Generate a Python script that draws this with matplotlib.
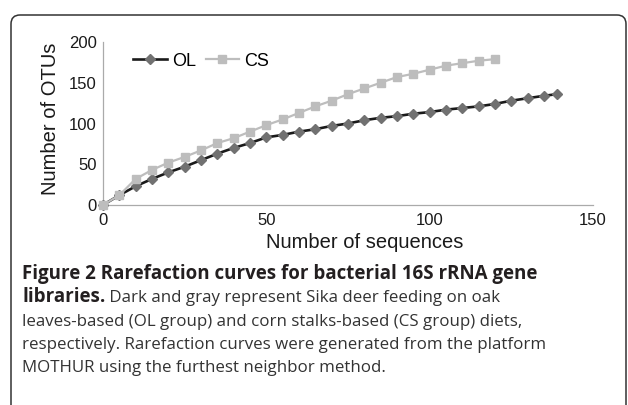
import numpy as np
import matplotlib
matplotlib.use('Agg')
import matplotlib.pyplot as plt
import matplotlib.patches as mpatches
import matplotlib.transforms as mtransforms

# rarefaction data
ol_x = list(range(0, 140, 5)) + [139]
ol_y = [0, 12, 23, 32, 40, 47, 55, 63, 70, 76, 83, 86, 90, 93, 97, 100,
        104, 107, 109, 112, 114, 117, 119, 121, 124, 128, 131, 134, 136]
cs_x = list(range(0, 125, 5))
cs_y = [0, 12, 32, 43, 52, 59, 67, 76, 82, 90, 98, 105, 113, 121, 128,
        136, 143, 150, 157, 161, 166, 171, 174, 177, 179]
x_ticks = [0, 50, 100, 150]
y_ticks = [0, 50, 100, 150, 200]

caption_bold1 = 'Figure 2 Rarefaction curves for bacterial 16S rRNA gene'
caption_bold2 = 'libraries.'
caption_rest = [' Dark and gray represent Sika deer feeding on oak',
                'leaves-based (OL group) and corn stalks-based (CS group) diets,',
                'respectively. Rarefaction curves were generated from the platform',
                'MOTHUR using the furthest neighbor method.']

W, H = 628, 405
fig = plt.figure(figsize=(W / 100, H / 100), dpi=100)
ax = fig.add_axes([103 / W, 1 - 205 / H, 490 / W, 163 / H])

chart_font = 'Liberation Sans'
ax.plot(ol_x, ol_y, color='#1a1a1a', lw=1.9, marker='D', ms=5.5,
        mfc='#717171', mec='#717171', label='OL', clip_on=False, zorder=3)
ax.plot(cs_x, cs_y, color='#bdbdbd', lw=1.6, marker='s', ms=5.5,
        mfc='#bdbdbd', mec='#bdbdbd', label='CS', clip_on=False, zorder=4)

ax.set_xlim(0, 150)
ax.set_ylim(0, 200)
ax.set_xticks(x_ticks)
ax.set_yticks(y_ticks)
for s in ['top', 'right']:
    ax.spines[s].set_visible(False)
for s in ['left', 'bottom']:
    ax.spines[s].set_color('#aaaaaa')
    ax.spines[s].set_linewidth(0.9)
ax.tick_params(length=0, labelsize=12, colors='#1a1a1a')
ax.tick_params(axis='y', pad=4.5)
ax.tick_params(axis='x', pad=5.5)
for lab in ax.get_xticklabels() + ax.get_yticklabels():
    lab.set_fontfamily(chart_font)

ax.set_xlabel('Number of sequences', fontsize=14.5, family=chart_font, color='#1a1a1a')
ax.set_ylabel('Number of OTUs', fontsize=14.5, family=chart_font, color='#1a1a1a')
ax.xaxis.set_label_coords(0.534, -0.17)
ax.yaxis.set_label_coords(-0.088, 0.53)

leg = ax.legend(loc='center left', bbox_to_anchor=(0.062, 0.883), ncol=2,
                frameon=False, borderaxespad=0, borderpad=0,
                handlelength=1.85, handletextpad=0.28, columnspacing=0.55,
                prop={'family': chart_font, 'size': 13})

# rounded frame around the whole figure panel
frame = mpatches.FancyBboxPatch((11, -30), 615, 390 + 30, boxstyle='round,pad=0,rounding_size=9',
                                transform=mtransforms.IdentityTransform(),
                                fill=False, ec='#333333', lw=1.1)
fig.patches.append(frame)

# caption
cap_font = 'Open Sans'
cap_size = 12.2
bold_size = 13.5
x0 = 22 / W
base = [279, 302, 326, 349, 372]
fig.text(x0, 1 - base[0] / H, caption_bold1, family=cap_font, fontsize=bold_size,
         weight='bold', color='#231f20', va='baseline')
b2 = fig.text(x0, 1 - base[1] / H, caption_bold2, family=cap_font, fontsize=bold_size,
              weight='bold', color='#231f20', va='baseline')
fig.canvas.draw()
bb = b2.get_window_extent(renderer=fig.canvas.get_renderer())
fig.text(bb.x1 / W, 1 - base[1] / H, caption_rest[0], family=cap_font, fontsize=cap_size,
         color='#333333', va='baseline')
for i, line in enumerate(caption_rest[1:]):
    fig.text(x0, 1 - base[i + 2] / H, line, family=cap_font, fontsize=cap_size,
             color='#333333', va='baseline')

fig.savefig('out.png', dpi=100)
